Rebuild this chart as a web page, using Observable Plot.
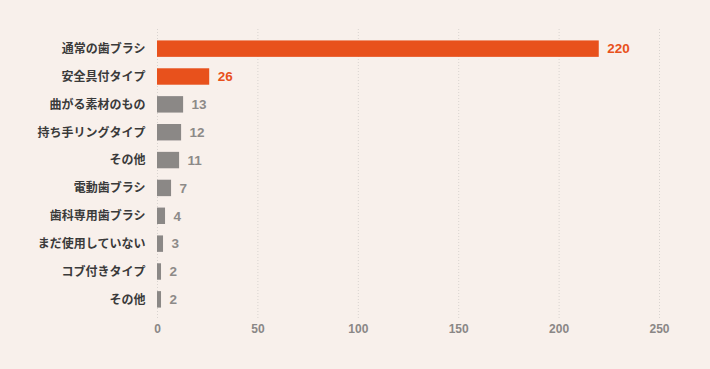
<!DOCTYPE html>
<html>
<head>
<meta charset="utf-8">
<script src="https://cdn.jsdelivr.net/npm/d3@7"></script>
<script src="https://cdn.jsdelivr.net/npm/@observablehq/plot@0.6"></script>
<style>
  html, body { margin: 0; padding: 0; background: #f8f0eb; }
</style>
</head>
<body>
<div id="chart"></div>
<script>
const labels = ["通常の歯ブラシ", "安全具付タイプ", "曲がる素材のもの", "持ち手リングタイプ", "その他", "電動歯ブラシ", "歯科専用歯ブラシ", "まだ使用していない", "コブ付きタイプ", "その他"];
const values = [220, 26, 13, 12, 11, 7, 4, 3, 2, 2];
const xTicks = [0, 50, 100, 150, 200, 250];
const highlightCount = 2;

const orange = "#e8511c";
const gray = "#8b8886";
const data = labels.map((label, i) => ({ i, label, value: values[i], hi: i < highlightCount }));

const chart = Plot.plot({
  width: 710,
  height: 369,
  marginLeft: 157,
  marginRight: 51,
  marginTop: 29,
  marginBottom: 50,
  style: { background: "#f8f0eb", fontFamily: "'Noto Sans CJK JP', 'Liberation Sans', sans-serif" },
  x: { domain: [0, 250], axis: null },
  y: { domain: d3.range(labels.length), padding: 0.41, round: false, axis: null },
  marks: [
    Plot.ruleX(xTicks, { stroke: "#d9d4d0", strokeDasharray: "1,2", strokeWidth: 1 }),
    Plot.barX(data, { x: "value", y: "i", fill: d => d.hi ? orange : gray }),
    Plot.text(data, {
      x: "value", y: "i", text: d => String(d.value), dx: 8, textAnchor: "start",
      fill: d => d.hi ? orange : "#8d8a88", fontWeight: "bold", fontSize: 13.5,
      fontFamily: "'Liberation Sans', Arial, sans-serif"
    }),
    Plot.axisY({
      tickSize: 0, tickPadding: 12, tickFormat: i => labels[i], label: null,
      fontSize: 12, fontWeight: "bold", fill: "#3a3a3a", letterSpacing: 0.3
    }),
    Plot.axisX(xTicks, {
      tickSize: 0, tickPadding: 5, label: null, fontSize: 12, fontWeight: "bold",
      fill: "#8a8786", fontFamily: "'Liberation Sans', Arial, sans-serif"
    })
  ]
});
document.getElementById("chart").appendChild(chart);
</script>
</body>
</html>
